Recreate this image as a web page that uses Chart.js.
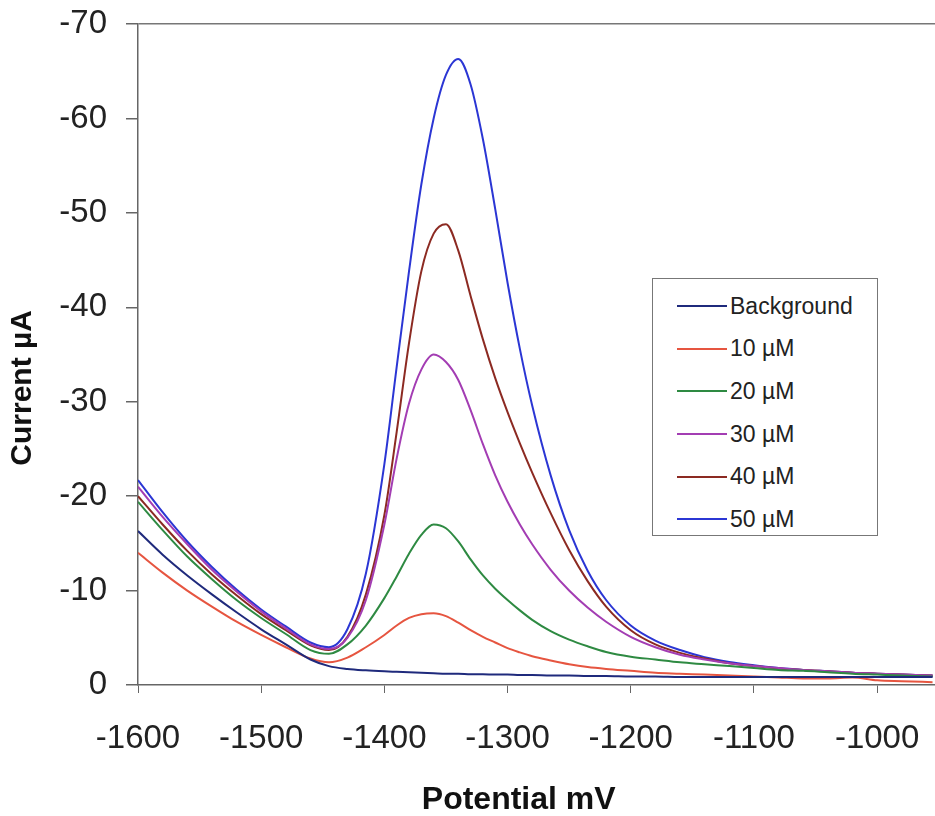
<!DOCTYPE html>
<html>
	<head>
		<meta charset="utf-8">
		<title>Current vs Potential</title>
		<style>
		body {
			margin: 0;
			padding: 0;
			background-color: #fff;
			font-family: "Liberation Sans", Arial, sans-serif;
		}
		#wrap {
			position: relative;
			width: 935px;
			height: 816px;
		}
		#legend {
			position: absolute;
			left: 652px;
			top: 278px;
			width: 226px;
			height: 258px;
			border: 1.5px solid #777;
			background-color: #fff;
			box-sizing: border-box;
			padding-top: 6px;
		}
		.item {
			height: 42.6px;
			display: flex;
			align-items: center;
			font-size: 23px;
			color: #222;
		}
		.swatch {
			width: 50px;
			height: 2px;
			margin-left: 24px;
			margin-right: 3px;
		}
		</style>
		<script src="https://cdn.jsdelivr.net/npm/chart.js@4.4.0/dist/chart.umd.min.js"></script>
		<script>
			// potential (mV) and current (uA)
			var potential = [-1600, -1580, -1560, -1540, -1520, -1500, -1480, -1460, -1445, -1430, -1415, -1400,
				-1390, -1380, -1370, -1360, -1350, -1340, -1330, -1320, -1310, -1300, -1290, -1280, -1265, -1250,
				-1235, -1220, -1200, -1180, -1160, -1140, -1120, -1100, -1080, -1060, -1040, -1020, -1000, -980, -955];

			var background = [-16.3, -13.8, -11.6, -9.6, -7.7, -5.9, -4.3, -2.7, -2.0, -1.7, -1.55, -1.45,
				-1.4, -1.35, -1.3, -1.25, -1.2, -1.2, -1.15, -1.15, -1.1, -1.1, -1.05, -1.05, -1.0, -1.0,
				-0.95, -0.95, -0.9, -0.9, -0.85, -0.85, -0.85, -0.85, -0.85, -0.85, -0.85, -0.85, -0.85, -0.85, -0.85];
			var um10 = [-14.0, -11.9, -10.0, -8.3, -6.7, -5.3, -4.0, -2.8, -2.4, -2.9, -4.0, -5.3,
				-6.3, -7.1, -7.5, -7.6, -7.3, -6.6, -5.8, -5.1, -4.5, -3.9, -3.45, -3.05, -2.6, -2.2,
				-1.9, -1.7, -1.5, -1.3, -1.2, -1.1, -1.0, -0.9, -0.8, -0.7, -0.7, -0.8, -0.5, -0.4, -0.3];
			var um20 = [-19.4, -16.4, -13.6, -11.2, -9.0, -7.1, -5.4, -3.7, -3.3, -4.3, -6.3, -9.2,
				-11.5, -13.9, -15.9, -17.0, -16.6, -15.2, -13.3, -11.6, -10.2, -9.0, -7.9, -6.9, -5.7, -4.8,
				-4.1, -3.5, -3.0, -2.7, -2.4, -2.2, -2.0, -1.8, -1.6, -1.5, -1.35, -1.2, -1.1, -1.0, -0.9];
			var um30 = [-21.0, -17.8, -14.9, -12.2, -9.9, -7.8, -6.0, -4.3, -3.8, -5.0, -9.0, -17.0,
				-24.0, -29.8, -33.4, -35.0, -34.2, -32.3, -29.1, -25.5, -22.2, -19.4, -17.0, -14.9, -12.2, -10.0,
				-8.2, -6.7, -5.1, -4.0, -3.2, -2.7, -2.3, -2.0, -1.8, -1.6, -1.45, -1.3, -1.2, -1.1, -1.0];
			var um40 = [-20.0, -17.0, -14.2, -11.7, -9.5, -7.5, -5.8, -4.2, -3.7, -5.1, -9.6, -18.0,
				-26.8, -36.2, -43.8, -47.8, -48.8, -46.0, -41.2, -36.6, -32.5, -28.9, -25.6, -22.5, -18.2, -14.3,
				-11.0, -8.3, -5.8, -4.3, -3.4, -2.8, -2.3, -2.0, -1.75, -1.6, -1.45, -1.3, -1.2, -1.1, -1.0];
			var um50 = [-21.7, -18.3, -15.2, -12.5, -10.1, -8.0, -6.2, -4.5, -4.0, -5.9, -11.8, -23.4,
				-33.7, -43.8, -53.0, -60.0, -64.6, -66.3, -63.6, -57.8, -50.4, -42.6, -35.6, -29.6, -22.2, -16.4,
				-12.1, -9.0, -6.3, -4.7, -3.7, -2.95, -2.45, -2.1, -1.8, -1.6, -1.45, -1.3, -1.2, -1.1, -1.0];

			var seriesNames = ['Background', '10 µM', '20 µM', '30 µM', '40 µM', '50 µM'];
			var seriesData = [background, um10, um20, um30, um40, um50];
			var seriesColors = ['#1f2a7c', '#e65540', '#2e8a42', '#a33db3', '#8c2a22', '#2b36d4'];

			var xTicks = [-1600, -1500, -1400, -1300, -1200, -1100, -1000];
			var yTicks = [-70, -60, -50, -40, -30, -20, -10, 0];

			window.onload = function() {
				var font = '"Liberation Sans", Arial, sans-serif';
				var datasets = [];
				for (var i = 0; i < seriesData.length; i++) {
					datasets.push({
						label: seriesNames[i],
						data: seriesData[i].map(function (v, j) { return {x: potential[j], y: v}; }),
						borderColor: seriesColors[i],
						borderWidth: 2,
						pointRadius: 0,
						cubicInterpolationMode: 'monotone',
						fill: false
					});
				}

				var ctx = document.getElementById('chart');
				var chart = new Chart(ctx, {
					type: 'line',
					data: { datasets: datasets },
					options: {
						responsive: false,
						animation: false,
						layout: { padding: { top: 24, right: 0, bottom: 0, left: 0 } },
						plugins: {
							legend: { display: false },
							tooltip: { enabled: false }
						},
						scales: {
							x: {
								type: 'linear',
								min: -1600,
								max: -953,
								afterFit: function (s) {
									s.height = 131;
									s.paddingLeft = 0;
									s.paddingRight = 0;
								},
								afterBuildTicks: function (s) {
									s.ticks = xTicks.map(function (v) { return {value: v}; });
								},
								border: { color: '#666', width: 1.5 },
								grid: { drawOnChartArea: false, tickLength: 8, tickColor: '#666' },
								ticks: {
									padding: 26,
									color: '#222',
									font: { family: font, size: 33 },
									callback: function (v) { return String(v); }
								},
								title: {
									display: true,
									text: 'Potential mV    ',
									color: '#111',
									font: { family: font, size: 32, weight: 'bold', lineHeight: 1 },
									padding: { top: 0, bottom: 0 }
								}
							},
							y: {
								type: 'linear',
								min: -70,
								max: 0,
								reverse: true,
								afterFit: function (s) {
									s.width = 138;
									s.paddingTop = 0;
									s.paddingBottom = 0;
								},
								afterBuildTicks: function (s) {
									s.ticks = yTicks.map(function (v) { return {value: v}; });
								},
								border: { color: '#666', width: 1.5 },
								grid: {
									drawOnChartArea: true,
									tickLength: 12,
									tickColor: '#666',
									lineWidth: 1.5,
									color: function (c) { return c.tick && c.tick.value === -70 ? '#777' : 'rgba(0,0,0,0)'; }
								},
								ticks: {
									padding: 19,
									color: '#222',
									font: { family: font, size: 33 },
									callback: function (v) { return String(v); }
								},
								title: {
									display: true,
									text: 'Current µA        ',
									color: '#111',
									font: { family: font, size: 30, weight: 'bold', lineHeight: 1 },
									padding: { top: 8, bottom: 0 }
								}
							}
						}
					}
				});

				// legend box built from the datasets
				var legend = document.getElementById('legend');
				chart.data.datasets.forEach(function (ds) {
					var row = document.createElement('div');
					row.className = 'item';
					var sw = document.createElement('span');
					sw.className = 'swatch';
					sw.style.backgroundColor = ds.borderColor;
					var txt = document.createElement('span');
					txt.textContent = ds.label;
					row.appendChild(sw);
					row.appendChild(txt);
					legend.appendChild(row);
				});
			}
		</script>
	</head>
	<body>
		<div id="wrap">
			<canvas id="chart" width="935" height="816"></canvas>
			<div id="legend"></div>
		</div>
	</body>
</html>
